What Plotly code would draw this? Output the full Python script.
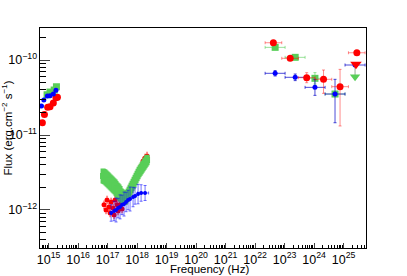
import numpy as np
import plotly.graph_objects as go

# ---------------- data ----------------
# optical / UV
red_opt_x = [6.17e14, 7.24e14, 9.33e14, 1.12e15, 1.45e15, 1.78e15, 2.0e15]
red_opt_y = [1.46e-11, 1.87e-11, 2.34e-11, 2.38e-11, 2.67e-11, 3.14e-11, 3.18e-11]
blue_opt_x = [5.75e14, 6.92e14, 9.12e14, 1.12e15, 1.45e15, 1.78e15]
blue_opt_y = [2.44e-11, 2.93e-11, 3.31e-11, 3.34e-11, 3.52e-11, 3.94e-11]
green_opt_x = [8.91e14, 1.12e15, 1.55e15, 1.85e15]
green_opt_y = [3.44e-11, 3.74e-11, 3.98e-11, 4.40e-11]

# X-ray, green butterfly
green_x_x = [7.03e16, 7.60e16, 8.22e16, 8.89e16, 9.62e16, 1.04e17, 1.12e17, 1.22e17, 1.32e17,
             1.43e17, 1.54e17, 1.66e17, 1.80e17, 1.94e17, 2.10e17, 2.27e17, 2.45e17, 2.65e17,
             2.87e17, 3.10e17, 3.35e17, 3.62e17, 3.92e17, 4.24e17, 4.58e17, 4.95e17, 5.36e17,
             5.79e17, 6.26e17, 6.77e17, 7.32e17, 7.91e17, 8.55e17, 9.25e17, 1.0e18, 1.08e18,
             1.17e18, 1.27e18, 1.37e18, 1.48e18, 1.60e18, 1.73e18, 1.87e18, 2.02e18, 2.18e18]
green_x_y = [2.84e-12, 2.80e-12, 2.75e-12, 2.67e-12, 2.59e-12, 2.52e-12, 2.44e-12, 2.36e-12, 2.29e-12,
             2.22e-12, 2.15e-12, 2.09e-12, 2.03e-12, 1.94e-12, 1.85e-12, 1.80e-12, 1.74e-12, 1.66e-12,
             1.58e-12, 1.54e-12, 1.49e-12, 1.44e-12, 1.40e-12, 1.47e-12, 1.54e-12, 1.64e-12, 1.74e-12,
             1.85e-12, 1.97e-12, 2.09e-12, 2.22e-12, 2.36e-12, 2.51e-12, 2.67e-12, 2.84e-12, 3.02e-12,
             3.21e-12, 3.36e-12, 3.52e-12, 3.69e-12, 3.86e-12, 4.04e-12, 4.23e-12, 4.43e-12, 4.64e-12]
green_x_err = [0.10] * 18 + [0.09] * 4 + [0.08] * 3 + [0.07] * 20

# X-ray, red
red_x_x = [7.60e16, 8.89e16, 9.62e16, 1.12e17, 1.22e17, 1.32e17, 1.54e17, 1.66e17,
           1.80e17, 2.10e17, 2.27e17, 2.45e17, 2.87e17, 3.10e17, 3.62e17,
           4.95e17, 6.26e17, 7.91e17, 1.0e18, 1.17e18, 1.37e18, 1.60e18, 1.87e18, 2.18e18]
red_x_y = [1.17e-12, 1.0e-12, 1.36e-12, 1.10e-12, 0.912e-12, 1.28e-12, 1.06e-12, 0.858e-12,
           1.36e-12, 1.17e-12, 0.97e-12, 1.445e-12, 1.20e-12, 1.03e-12, 1.28e-12,
           1.69e-12, 1.97e-12, 2.36e-12, 2.84e-12, 3.31e-12, 3.86e-12, 4.50e-12, 4.94e-12, 5.25e-12]

# X-ray, blue
blue_x_x = [1.32e17, 1.66e17, 1.94e17, 2.27e17, 2.65e17, 3.10e17, 3.62e17, 4.24e17,
            4.95e17, 5.79e17, 7.32e17, 8.55e17, 1.08e18, 1.37e18, 1.87e18]
blue_x_y = [0.912e-12, 0.97e-12, 1.0e-12, 1.06e-12, 1.10e-12, 1.17e-12, 1.20e-12, 1.28e-12,
            1.36e-12, 1.40e-12, 1.49e-12, 1.54e-12, 1.63e-12, 1.685e-12, 1.685e-12]
blue_x_err = [0.11, 0.13, 0.16, 0.13, 0.16, 0.13, 0.16, 0.13, 0.13, 0.16, 0.13, 0.11, 0.13, 0.11, 0.10]
blue_x_xerr = [0, 0, 0, 0, 0, 0, 0, 0, 0, 0, 0, 0, 0, 0.12, 0.12]

# gamma-ray
red_g_x = [4.17e22, 1.55e23, 5.62e23, 2.09e24, 7.59e24, 2.82e25]
red_g_lo = [2.19e22, 8.04e22, 2.94e23, 1.08e24, 3.98e24, 1.46e25]
red_g_hi = [8.04e22, 2.94e23, 1.08e24, 3.98e24, 1.46e25, 5.36e25]
red_g_y = [1.70e-10, 1.054e-10, 5.81e-11, 5.53e-11, 4.41e-11, 1.25e-10]
red_g_up = [0.013, 0.013, 0.067, 0.124, 0.231, 0.013]
red_g_dn = [0.013, 0.013, 0.067, 0.187, 0.524, 0.013]
red_ul_x = [2.63e25]
red_ul_y = [8.77e-11]

green_g_x = [4.79e22, 2.29e23, 1.07e24, 5.13e24]
green_g_lo = [2.19e22, 1.04e23, 4.95e23, 2.36e24]
green_g_hi = [1.04e23, 4.95e23, 2.36e24, 1.12e25]
green_g_y = [1.475e-10, 1.086e-10, 5.70e-11, 3.52e-11]
green_g_err = [0.013, 0.02, 0.076, 0.0]
green_ul_x = [2.45e25]
green_ul_y = [5.98e-11]
green_ul_up = [0.157]

blue_g_x = [4.79e22, 2.29e23, 1.07e24, 5.13e24, 2.45e25]
blue_g_lo = [2.19e22, 1.04e23, 4.95e23, 2.36e24, 1.12e25]
blue_g_hi = [1.04e23, 4.95e23, 2.36e24, 1.12e25, 5.36e25]
blue_g_y = [6.65e-11, 5.88e-11, 4.32e-11, 3.52e-11, 8.58e-11]
blue_g_up = [0.036, 0.044, 0.107, 0.196, 0.0]
blue_g_dn = [0.036, 0.044, 0.107, 0.383, 0.0]

x_title = "Frequency (Hz)"
y_title = "Flux (erg.cm<sup>\u22122</sup> s<sup>\u22121</sup>)"

RED = "#ff0000"
GREEN = "rgb(88,206,88)"
BLUE = "#0000ff"
RED_E = "rgba(255,0,0,0.45)"
GREEN_E = "rgba(88,206,88,0.6)"
BLUE_E = "rgba(0,0,255,0.55)"


def dex_err(vals, up, dn):
    v = np.array(vals)
    return (v * (10 ** np.array(up) - 1)).tolist(), (v * (1 - 10 ** (-np.array(dn)))).tolist()


def bin_err(c, lo, hi):
    c = np.array(c)
    return (np.array(hi) - c).tolist(), (c - np.array(lo)).tolist()


fig = go.Figure()

# red X-ray (drawn first, under green)
rp, rm = dex_err(red_x_y, [0.05] * len(red_x_y), [0.05] * len(red_x_y))
xp, xm = dex_err(red_x_x, [0.03] * len(red_x_x), [0.03] * len(red_x_x))
fig.add_trace(go.Scatter(x=red_x_x, y=red_x_y, mode="markers",
                         marker=dict(color=RED, size=5, symbol="circle"),
                         error_y=dict(type="data", array=rp, arrayminus=rm, color=RED_E, thickness=1, width=1),
                         error_x=dict(type="data", array=xp, arrayminus=xm, color=RED_E, thickness=1, width=1)))
# green X-ray butterfly
gp, gm = dex_err(green_x_y, green_x_err, green_x_err)
fig.add_trace(go.Scatter(x=green_x_x, y=green_x_y, mode="markers",
                         marker=dict(color=GREEN, size=6, symbol="square"),
                         error_y=dict(type="data", array=gp, arrayminus=gm, color=GREEN, thickness=5, width=0)))
# blue X-ray
bp, bm = dex_err(blue_x_y, blue_x_err, blue_x_err)
bxp, bxm = dex_err(blue_x_x, blue_x_xerr, blue_x_xerr)
fig.add_trace(go.Scatter(x=blue_x_x, y=blue_x_y, mode="markers",
                         marker=dict(color=BLUE, size=4, symbol="circle"),
                         error_y=dict(type="data", array=bp, arrayminus=bm, color=BLUE_E, thickness=1, width=1.5),
                         error_x=dict(type="data", array=bxp, arrayminus=bxm, color=BLUE_E, thickness=1, width=1.5)))

# optical
fig.add_trace(go.Scatter(x=red_opt_x, y=red_opt_y, mode="markers",
                         marker=dict(color=RED, size=7, symbol="circle")))
fig.add_trace(go.Scatter(x=green_opt_x, y=green_opt_y, mode="markers",
                         marker=dict(color=GREEN, size=7, symbol="square")))
fig.add_trace(go.Scatter(x=blue_opt_x, y=blue_opt_y, mode="markers",
                         marker=dict(color=BLUE, size=5, symbol="circle")))

# gamma-ray
gxp, gxm = bin_err(green_g_x, green_g_lo, green_g_hi)
ggp, ggm = dex_err(green_g_y, green_g_err, green_g_err)
fig.add_trace(go.Scatter(x=green_g_x, y=green_g_y, mode="markers",
                         marker=dict(color=GREEN, size=7, symbol="square"),
                         error_x=dict(type="data", array=gxp, arrayminus=gxm, color=GREEN_E, thickness=1, width=1.5),
                         error_y=dict(type="data", array=ggp, arrayminus=ggm, color=GREEN_E, thickness=1, width=1.5)))
ulp, _ = dex_err(green_ul_y, green_ul_up, [0])
fig.add_trace(go.Scatter(x=green_ul_x, y=green_ul_y, mode="markers",
                         marker=dict(color=GREEN, size=9, symbol="triangle-down"),
                         error_y=dict(type="data", array=ulp, arrayminus=[0], color="rgba(120,150,120,0.8)", thickness=1, width=0)))
bgxp, bgxm = bin_err(blue_g_x, blue_g_lo, blue_g_hi)
bgp, bgm = dex_err(blue_g_y, blue_g_up, blue_g_dn)
fig.add_trace(go.Scatter(x=blue_g_x, y=blue_g_y, mode="markers",
                         marker=dict(color=BLUE, size=5, symbol="circle"),
                         error_x=dict(type="data", array=bgxp, arrayminus=bgxm, color="rgba(0,0,200,0.7)", thickness=1, width=1.5),
                         error_y=dict(type="data", array=bgp, arrayminus=bgm, color="rgba(0,0,200,0.7)", thickness=1, width=1.5)))
rgxp, rgxm = bin_err(red_g_x, red_g_lo, red_g_hi)
rgp, rgm = dex_err(red_g_y, red_g_up, red_g_dn)
fig.add_trace(go.Scatter(x=red_g_x, y=red_g_y, mode="markers",
                         marker=dict(color=RED, size=7, symbol="circle"),
                         error_x=dict(type="data", array=rgxp, arrayminus=rgxm, color=RED_E, thickness=1, width=1.5),
                         error_y=dict(type="data", array=rgp, arrayminus=rgm, color=RED_E, thickness=1, width=1.5)))
fig.add_trace(go.Scatter(x=red_ul_x, y=red_ul_y, mode="markers",
                         marker=dict(color=RED, size=10, symbol="triangle-down")))

font = "Liberation Sans, Arial, Helvetica, sans-serif"
axis_common = dict(type="log", dtick=1, exponentformat="power", showgrid=False, zeroline=False,
                   ticks="inside", showline=True, linecolor="black", linewidth=1, mirror=True,
                   automargin=False, tickangle=0,
                   tickfont=dict(family=font, size=10, color="black"))

fig.update_layout(
    width=407, height=276, showlegend=False,
    margin=dict(l=40, r=41, t=28, b=28, autoexpand=False),
    paper_bgcolor="white", plot_bgcolor="white",
    font=dict(family=font, color="black"),
    xaxis=dict(**axis_common, range=[14.71, 25.76], ticklen=5,
               minor=dict(ticks="inside", ticklen=3, dtick="D1", tickcolor="black")),
    yaxis=dict(**axis_common, range=[-12.507, -9.573], ticklen=10,
               minor=dict(ticks="inside", ticklen=6, dtick="D1", tickcolor="black")),
    annotations=[
        dict(text=x_title, xref="paper", yref="paper", x=0.52, y=-0.095,
             xanchor="center", yanchor="middle", showarrow=False, font=dict(size=11.5)),
        dict(text=y_title, xref="paper", yref="paper", x=-0.1, y=0.545, textangle=-90,
             xanchor="center", yanchor="middle", showarrow=False, font=dict(size=11.5)),
    ],
)

fig.write_html("out.html", config={"displayModeBar": False},
               post_script="document.body.style.margin='0';document.body.style.padding='0';")
